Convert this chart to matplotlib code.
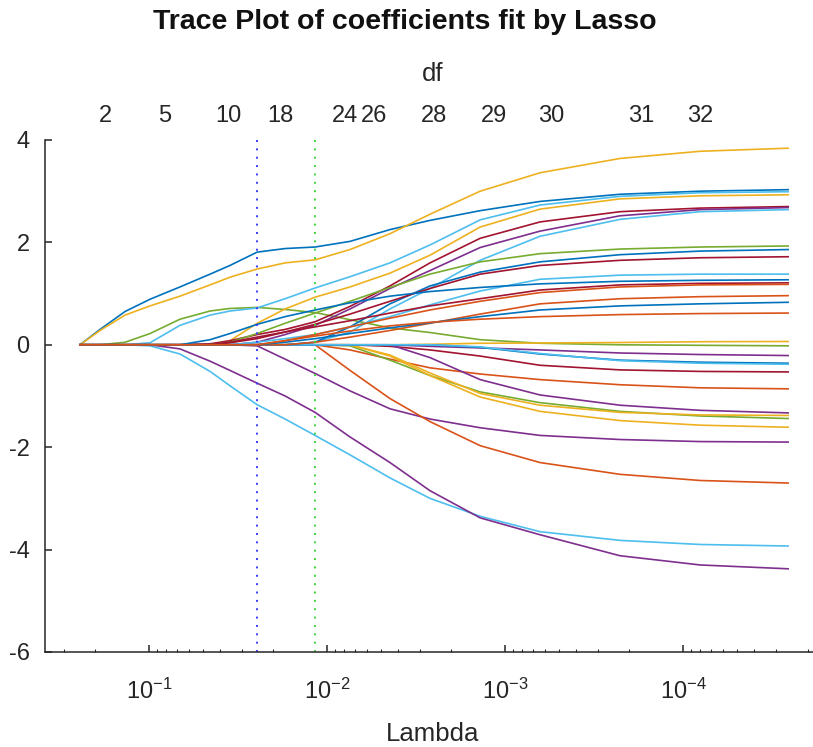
import matplotlib
matplotlib.use("Agg")
import matplotlib.pyplot as plt
from matplotlib.ticker import NullFormatter, FixedLocator, NullLocator

plt.rcParams['font.family'] = ['Liberation Sans', 'DejaVu Sans']
plt.rcParams['mathtext.fontset'] = 'custom'
plt.rcParams['mathtext.rm'] = 'Liberation Sans'
plt.rcParams['axes.unicode_minus'] = False

lam = [0.2443, 0.1884, 0.1364, 0.0987, 0.0670, 0.0454, 0.0351, 0.0247, 0.0172,
       0.01167, 0.00743, 0.00443, 0.00264, 0.00138, 0.000636, 0.000226,
       0.0000802, 0.0000257]

# coefficient traces (one list per predictor)
c_blue1 = [0, 0.30, 0.65, 0.89, 1.13, 1.38, 1.55, 1.81, 1.88, 1.91, 2.02, 2.25, 2.43, 2.62, 2.80, 2.94, 3.00, 3.03]
c_yel1 = [0, 0.28, 0.58, 0.76, 0.95, 1.17, 1.32, 1.48, 1.60, 1.66, 1.86, 2.17, 2.55, 3.00, 3.36, 3.64, 3.78, 3.84]
c_grn1 = [0, 0, 0.05, 0.22, 0.50, 0.66, 0.71, 0.73, 0.69, 0.63, 0.49, 0.33, 0.24, 0.10, 0.03, 0.0, -0.01, -0.02]
c_lbl1 = [0, 0, 0, 0.04, 0.38, 0.58, 0.66, 0.72, 0.90, 1.11, 1.33, 1.60, 1.95, 2.44, 2.73, 2.90, 2.97, 2.99]
c_yel2 = [0, 0, 0, 0, 0, 0, 0.08, 0.42, 0.70, 0.93, 1.13, 1.40, 1.75, 2.30, 2.65, 2.85, 2.91, 2.93]
c_lbl2 = [0, 0, 0, -0.02, -0.18, -0.52, -0.80, -1.17, -1.45, -1.77, -2.15, -2.60, -3.00, -3.35, -3.65, -3.82, -3.90, -3.93]
c_pur1 = [0, 0, 0, 0, -0.08, -0.32, -0.50, -0.75, -1.00, -1.32, -1.80, -2.30, -2.85, -3.38, -3.71, -4.12, -4.30, -4.375]
c_pur2 = [0, 0, 0, 0, 0, 0, 0, -0.02, -0.28, -0.56, -0.90, -1.25, -1.45, -1.62, -1.77, -1.85, -1.89, -1.90]
c_org1 = [0, 0, 0, 0, 0, 0, 0, 0, 0, 0, -0.50, -1.05, -1.50, -1.97, -2.30, -2.53, -2.65, -2.70]
c_org2 = [0, 0, 0, 0, 0, 0, 0, 0, 0, 0, -0.10, -0.28, -0.45, -0.57, -0.68, -0.78, -0.84, -0.86]
c_red1 = [0, 0, 0, 0, 0, 0, 0, 0, 0, 0, 0, -0.03, -0.10, -0.22, -0.40, -0.49, -0.52, -0.53]
c_grn2 = [0, 0, 0, 0, 0, 0, 0, 0, 0, 0, -0.02, -0.30, -0.60, -0.92, -1.13, -1.30, -1.39, -1.44]
c_yel3 = [0, 0, 0, 0, 0, 0, 0, 0, 0, 0, 0, -0.20, -0.55, -0.95, -1.18, -1.32, -1.37, -1.38]
c_yel4 = [0, 0, 0, 0, 0, 0, 0, 0, 0, 0, 0, -0.22, -0.60, -1.02, -1.30, -1.48, -1.57, -1.61]
c_pur3 = [0, 0, 0, 0, 0, 0, 0, 0, 0, 0, 0, 0, -0.25, -0.68, -0.98, -1.18, -1.28, -1.33]
c_yel5 = [0, 0, 0, 0, 0, 0, 0, 0, 0, 0, 0, 0, 0.01, 0.03, 0.035, 0.045, 0.06, 0.065]
c_pur4 = [0, 0, 0, 0, 0, 0, 0, 0, 0, 0, 0, 0, -0.03, -0.06, -0.10, -0.16, -0.19, -0.21]
c_blue2 = [0, 0, 0, 0, 0, 0, 0, 0, 0, 0, 0, 0, 0, -0.05, -0.18, -0.30, -0.34, -0.36]
c_lbl3 = [0, 0, 0, 0, 0, 0, 0, 0, 0, 0, 0, 0, 0, -0.04, -0.17, -0.31, -0.36, -0.38]
c_red2 = [0, 0, 0, 0, 0, 0.02, 0.08, 0.20, 0.30, 0.45, 0.75, 1.15, 1.60, 2.08, 2.40, 2.60, 2.67, 2.70]
c_pur5 = [0, 0, 0, 0, 0, 0, 0, 0.05, 0.20, 0.38, 0.70, 1.10, 1.45, 1.90, 2.22, 2.52, 2.64, 2.68]
c_lbl4 = [0, 0, 0, 0, 0, 0, 0, 0, 0, 0.05, 0.25, 0.70, 1.10, 1.65, 2.12, 2.45, 2.60, 2.64]
c_grn3 = [0, 0, 0, 0, 0, 0, 0.05, 0.22, 0.42, 0.62, 0.85, 1.12, 1.38, 1.62, 1.78, 1.87, 1.91, 1.93]
c_blue3 = [0, 0, 0, 0, 0, 0, 0, 0, 0, 0.05, 0.35, 0.80, 1.15, 1.42, 1.62, 1.76, 1.83, 1.86]
c_red3 = [0, 0, 0, 0, 0, 0, 0.04, 0.12, 0.25, 0.40, 0.60, 0.85, 1.10, 1.38, 1.55, 1.65, 1.70, 1.72]
c_lbl5 = [0, 0, 0, 0, 0, 0, 0, 0.05, 0.12, 0.20, 0.35, 0.55, 0.78, 1.05, 1.28, 1.36, 1.38, 1.38]
c_blue4 = [0, 0, 0, 0, 0, 0.10, 0.22, 0.40, 0.55, 0.68, 0.82, 0.95, 1.04, 1.12, 1.19, 1.24, 1.26, 1.27]
c_red4 = [0, 0, 0, 0, 0, 0.0, 0.05, 0.15, 0.25, 0.35, 0.47, 0.62, 0.76, 0.90, 1.07, 1.17, 1.20, 1.21]
c_org3 = [0, 0, 0, 0, 0, 0, 0, 0, 0.08, 0.20, 0.35, 0.52, 0.68, 0.85, 1.02, 1.13, 1.17, 1.18]
c_org4 = [0, 0, 0, 0, 0, 0, 0, 0, 0, 0.05, 0.15, 0.28, 0.42, 0.60, 0.80, 0.90, 0.94, 0.96]
c_blue5 = [0, 0, 0, 0, 0, 0, 0, 0, 0.05, 0.12, 0.22, 0.33, 0.43, 0.55, 0.68, 0.76, 0.80, 0.83]
c_org5 = [0, 0, 0, 0, 0, 0, 0, 0, 0.08, 0.17, 0.27, 0.37, 0.44, 0.50, 0.55, 0.59, 0.61, 0.62]

# MATLAB default colours
BLUE, ORANGE, YELLOW, PURPLE = '#0072BD', '#D95319', '#EDB120', '#7E2F8E'
GREEN, LBLUE, DRED = '#77AC30', '#4DBEEE', '#A2142F'

traces = [
    (c_blue1, BLUE), (c_yel1, YELLOW), (c_grn1, GREEN), (c_lbl1, LBLUE),
    (c_yel2, YELLOW), (c_lbl2, LBLUE), (c_pur1, PURPLE), (c_pur2, PURPLE),
    (c_org1, ORANGE), (c_org2, ORANGE), (c_red1, DRED), (c_grn2, GREEN),
    (c_yel3, YELLOW), (c_yel4, YELLOW), (c_pur3, PURPLE), (c_yel5, YELLOW),
    (c_pur4, PURPLE), (c_blue2, BLUE), (c_lbl3, LBLUE), (c_red2, DRED),
    (c_pur5, PURPLE), (c_lbl4, LBLUE), (c_grn3, GREEN), (c_blue3, BLUE),
    (c_red3, DRED), (c_lbl5, LBLUE), (c_blue4, BLUE), (c_red4, DRED),
    (c_org3, ORANGE), (c_org4, ORANGE), (c_blue5, BLUE), (c_org5, ORANGE),
]

# df labels on the top axis
df_lam = [0.1746, 0.0813, 0.0360, 0.01837, 0.00793, 0.00545, 0.00251,
          0.001153, 0.000552, 0.000172, 0.0000802]
df_lab = ['2', '5', '10', '18', '24', '26', '28', '29', '30', '31', '32']

lam_1se = 0.0247
lam_minmse = 0.01167

fig = plt.figure(figsize=(8.13, 7.47), dpi=100)
ax = fig.add_axes([45/813, 1 - 652/747, 776/813, 512/747])

for coef, col in traces:
    ax.plot(lam, coef, color=col, lw=1.2)

ax.axvline(lam_1se, color='#3a3aff', ls=(0, (1, 3.3)), lw=1.4)
ax.axvline(lam_minmse, color='#3ad83a', ls=(0, (1, 3.3)), lw=1.4)

ax.set_xscale('log')
ax.set_xlim(0.384, 1.68e-5)
ax.set_ylim(-6, 4)
ax.set_yticks([-6, -4, -2, 0, 2, 4])
ax.set_xticks([1e-1, 1e-2, 1e-3, 1e-4])
ax.set_xticklabels([r'$\mathregular{10^{-1}}$', r'$\mathregular{10^{-2}}$',
                    r'$\mathregular{10^{-3}}$', r'$\mathregular{10^{-4}}$'])
ax.xaxis.set_minor_formatter(NullFormatter())

for s in ['top', 'right']:
    ax.spines[s].set_visible(False)
for s in ['left', 'bottom']:
    ax.spines[s].set_color('#262626')
    ax.spines[s].set_linewidth(1.1)

ax.tick_params(which='major', direction='in', length=5, width=1.1,
               colors='#262626', labelsize=17)
ax.tick_params(axis='x', which='major', pad=19)
ax.tick_params(axis='y', which='major', pad=11)
ax.tick_params(which='minor', direction='in', length=2.5, width=0.8,
               colors='#262626')
ax.set_xlabel('Lambda', fontsize=18.5, color='#262626', labelpad=13)

ax2 = ax.twiny()
ax2.set_xscale('log')
ax2.set_xlim(ax.get_xlim())
ax2.xaxis.set_major_locator(FixedLocator(df_lam))
ax2.set_xticklabels(df_lab)
ax2.xaxis.set_minor_locator(NullLocator())
ax2.tick_params(axis='x', length=0, labelsize=17, pad=9, colors='#262626')
for s in ax2.spines.values():
    s.set_visible(False)
ax2.set_xlabel('df', fontsize=18.5, color='#262626', labelpad=17.5)

fig.text(405/813, 1 - 22/747, 'Trace Plot of coefficients fit by Lasso',
         ha='center', va='center', fontsize=20.5, fontweight='bold', color='#111111')

fig.savefig('out.png', dpi=100)
